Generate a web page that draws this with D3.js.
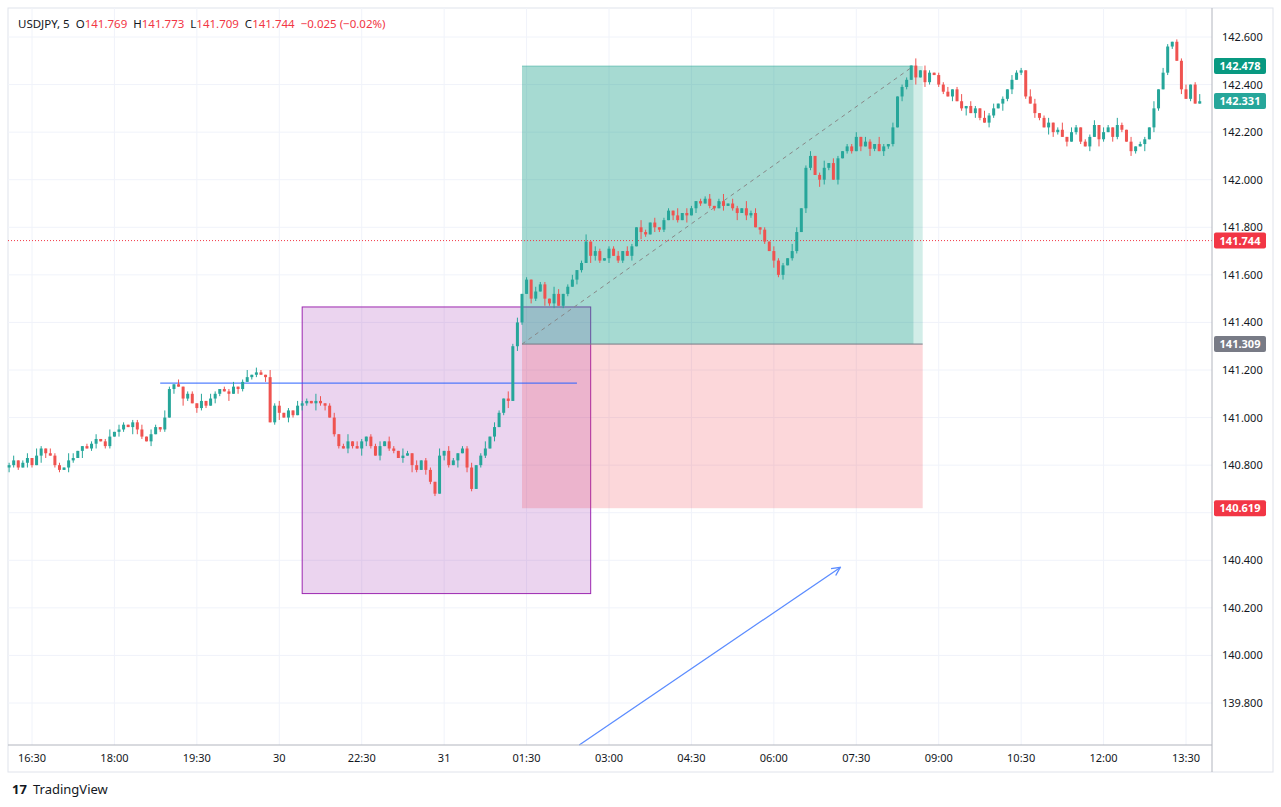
<!DOCTYPE html>
<html><head><meta charset="utf-8">
<script src="https://cdn.jsdelivr.net/npm/d3@7"></script>
<style>body{margin:0;background:#fff;font-family:"Noto Sans",Roboto,sans-serif}</style>
</head><body><svg id="c" width="1281" height="807"></svg>
<script>
const closes=[140.80,140.82,140.79,140.81,140.83,140.80,140.84,140.87,140.85,140.84,
140.80,140.78,140.79,140.82,140.83,140.86,140.88,140.87,140.89,140.91,
140.90,140.88,140.92,140.94,140.95,140.97,140.96,140.98,140.95,140.92,
140.90,140.93,140.96,140.95,141.00,141.12,141.14,141.13,141.08,141.10,
141.06,141.04,141.07,141.05,141.08,141.10,141.12,141.11,141.10,141.13,
141.12,141.15,141.17,141.18,141.19,141.18,141.17,140.98,141.05,141.02,
141.00,141.03,141.01,141.05,141.06,141.07,141.06,141.07,141.06,141.05,
141.00,140.93,140.88,140.87,140.90,140.88,140.87,140.90,140.92,140.88,
140.84,140.88,140.90,140.87,140.86,140.83,140.84,140.85,140.80,140.78,
140.82,140.78,140.73,140.68,140.84,140.86,140.80,140.82,140.85,140.87,
140.79,140.70,140.80,140.84,140.87,140.92,140.96,141.02,141.08,141.07,
141.30,141.40,141.52,141.58,141.50,141.53,141.56,141.50,141.48,141.52,
141.47,141.52,141.55,141.58,141.62,141.65,141.74,141.68,141.70,141.66,
141.67,141.71,141.68,141.66,141.70,141.68,141.72,141.80,141.78,141.77,
141.82,141.80,141.79,141.83,141.87,141.85,141.83,141.86,141.85,141.88,
141.91,141.90,141.92,141.89,141.88,141.91,141.89,141.90,141.88,141.86,
141.88,141.85,141.86,141.80,141.79,141.74,141.70,141.66,141.60,141.64,
141.67,141.70,141.78,141.88,142.05,142.10,142.02,142.00,142.05,142.07,
142.00,142.09,142.12,142.14,142.12,142.18,142.14,142.16,142.13,142.15,
142.12,142.14,142.15,142.22,142.35,142.39,142.42,142.48,142.43,142.46,
142.41,142.45,142.44,142.40,142.37,142.35,142.38,142.33,142.30,142.31,
142.28,142.30,142.26,142.24,142.27,142.30,142.32,142.34,142.38,142.42,
142.45,142.46,142.35,142.32,142.28,142.26,142.22,142.24,142.20,142.21,
142.18,142.16,142.20,142.22,142.16,142.14,142.18,142.23,142.17,142.20,
142.22,142.18,142.23,142.21,142.16,142.12,142.14,142.15,142.17,142.22,
142.30,142.38,142.45,142.56,142.58,142.50,142.38,142.34,142.40,142.32,142.33];
const firstOpen=140.79;
const upWick="1201203102110320011201302101120210310201103021011201302103120102110320120130210112021031020110302101120130210312010211032012013021011202103102011030210112013021031201021103201201302101120210310201103021011201302103120102110320120130210112021031020110302101120130";
const downWick="2110210320110210301201102103210201102031021102103021011020130210210312011021032102011020310211021030210110201302102103120110210321020110203102110210302101102013021021031201102103210201102031021102103021011020130210210312011021032102011020310211021030210110201";
const timeLabels=["16:30","18:00","19:30","30","22:30","31","01:30","03:00","04:30","06:00","07:30","09:00","10:30","12:00","13:30"];
const priceTicks=[139.8,140.0,140.2,140.4,140.6,140.8,141.0,141.2,141.4,141.6,141.8,142.0,142.2,142.4,142.6];
const markLabels=[{v:142.478,c:"#089981"},{v:142.331,c:"#26a69a"},{v:141.744,c:"#f23645"},{v:141.309,c:"#787b86"},{v:140.619,c:"#f23645"}];

const svg=d3.select("#c");
const x=d3.scaleLinear().domain([5,257]).range([32,1186]);
const y=d3.scaleLinear().domain([139.8,142.6]).range([703,37]);
const L=8,R=1212,T=8,B=745;
const data=closes.map((c,i)=>{const o=i?closes[i-1]:firstOpen;
 return {i,o,c,h:Math.max(o,c)+(+upWick[i]||0)*0.01,l:Math.min(o,c)-(+downWick[i]||0)*0.01};});

svg.append("rect").attr("x",L).attr("y",T).attr("width",1265).attr("height",764).attr("fill","none").attr("stroke","#e0e3eb");
svg.append("g").selectAll("line").data(priceTicks).join("line").attr("x1",L).attr("x2",R)
 .attr("y1",d=>y(d)).attr("y2",d=>y(d)).attr("stroke","#f0f3fa");
svg.append("g").selectAll("line").data(timeLabels).join("line").attr("y1",T).attr("y2",B)
 .attr("x1",(d,k)=>x(5+18*k)).attr("x2",(d,k)=>x(5+18*k)).attr("stroke","#f0f3fa");

svg.append("rect").attr("x",x(64)).attr("y",y(141.465)).attr("width",x(127)-x(64)).attr("height",y(140.26)-y(141.465))
 .attr("fill","rgba(156,39,176,0.2)").attr("stroke","#9c27b0");
const px0=x(112),px1=x(199.5),pxh=x(197.5);
svg.append("rect").attr("x",px0).attr("y",y(142.478)).attr("width",pxh-px0).attr("height",y(141.309)-y(142.478)).attr("fill","rgba(8,153,129,0.36)");
svg.append("rect").attr("x",pxh).attr("y",y(142.478)).attr("width",px1-pxh).attr("height",y(141.309)-y(142.478)).attr("fill","rgba(8,153,129,0.18)");
svg.append("rect").attr("x",px0).attr("y",y(141.309)).attr("width",px1-px0).attr("height",y(140.619)-y(141.309)).attr("fill","rgba(242,54,69,0.2)");
svg.append("line").attr("x1",px0).attr("x2",px1).attr("y1",y(141.309)).attr("y2",y(141.309)).attr("stroke","#787b86");
svg.append("line").attr("x1",px0).attr("x2",pxh).attr("y1",y(142.478)).attr("y2",y(142.478)).attr("stroke","rgba(8,153,129,0.4)");
svg.append("line").attr("x1",px0).attr("x2",pxh).attr("y1",y(141.309)).attr("y2",y(142.478)).attr("stroke","#888").attr("stroke-dasharray","4,4");
svg.append("line").attr("x1",x(33)).attr("x2",x(124)).attr("y1",y(141.145)).attr("y2",y(141.145)).attr("stroke","#2962ff").attr("stroke-width",1.2).attr("opacity",0.8);
svg.append("line").attr("x1",L).attr("x2",R).attr("y1",y(141.744)).attr("y2",y(141.744)).attr("stroke","#f23645").attr("stroke-dasharray","1,2");

const g=svg.append("g");
g.selectAll("line").data(data).join("line").attr("x1",d=>x(d.i)).attr("x2",d=>x(d.i))
 .attr("y1",d=>y(d.h)).attr("y2",d=>y(d.l)).attr("stroke",d=>d.c>=d.o?"#26a69a":"#ef5350");
g.selectAll("rect").data(data).join("rect").attr("x",d=>x(d.i)-1.5).attr("width",3)
 .attr("y",d=>y(Math.max(d.o,d.c))).attr("height",d=>Math.max(1,Math.abs(y(d.o)-y(d.c))))
 .attr("fill",d=>d.c>=d.o?"#26a69a":"#ef5350");

svg.append("defs").append("marker").attr("id","ah").attr("viewBox","0 0 10 10").attr("refX",9).attr("refY",5)
 .attr("markerWidth",8).attr("markerHeight",8).attr("orient","auto")
 .append("path").attr("d","M1,1L9,5L1,9").attr("fill","none").attr("stroke","#5b8cff").attr("stroke-width",1.3);
svg.append("line").attr("x1",x(124.5)).attr("y1",B).attr("x2",x(181.5)).attr("y2",y(140.37))
 .attr("stroke","#5b8cff").attr("stroke-width",1.3).attr("marker-end","url(#ah)");

svg.append("line").attr("x1",R).attr("x2",R).attr("y1",T).attr("y2",772).attr("stroke","#b2b5be");
svg.append("line").attr("x1",L).attr("x2",R).attr("y1",B).attr("y2",B).attr("stroke","#b2b5be");
const visTicks=priceTicks.filter(t=>markLabels.every(m=>Math.abs(y(m.v)-y(t))>10));
svg.append("g").selectAll("text").data(visTicks).join("text").attr("x",1222).attr("y",d=>y(d)+4)
 .attr("font-size",11).attr("fill","#131722").text(d=>d3.format(".3f")(d));
svg.append("g").selectAll("text").data(timeLabels).join("text").attr("x",(d,k)=>x(5+18*k)).attr("y",762)
 .attr("text-anchor","middle").attr("font-size",11).attr("fill","#131722").text(d=>d);
const ml=svg.append("g").selectAll("g").data(markLabels).join("g").attr("transform",d=>`translate(1214,${y(d.v)-8})`);
ml.append("rect").attr("width",52).attr("height",16).attr("rx",2).attr("fill",d=>d.c);
ml.append("text").attr("x",26).attr("y",12).attr("text-anchor","middle").attr("font-size",11).attr("font-weight","bold").attr("fill","#fff").text(d=>d3.format(".3f")(d.v));

const hd=svg.append("text").attr("x",18).attr("y",28).attr("font-size",11.5).attr("style","white-space:pre");
[["USDJPY, 5  O","#131722"],["141.769","#f23645"],["  H","#131722"],["141.773","#f23645"],["  L","#131722"],["141.709","#f23645"],["  C","#131722"],["141.744","#f23645"],["  −0.025 (−0.02%)","#f23645"]]
 .forEach(([t,c])=>hd.append("tspan").attr("fill",c).text(t));
svg.append("text").attr("x",12).attr("y",794).attr("font-size",13).attr("font-weight","bold").attr("fill","#131722").text("17");
svg.append("text").attr("x",33).attr("y",794).attr("font-size",13).attr("fill","#131722").text("TradingView");
</script></body></html>
